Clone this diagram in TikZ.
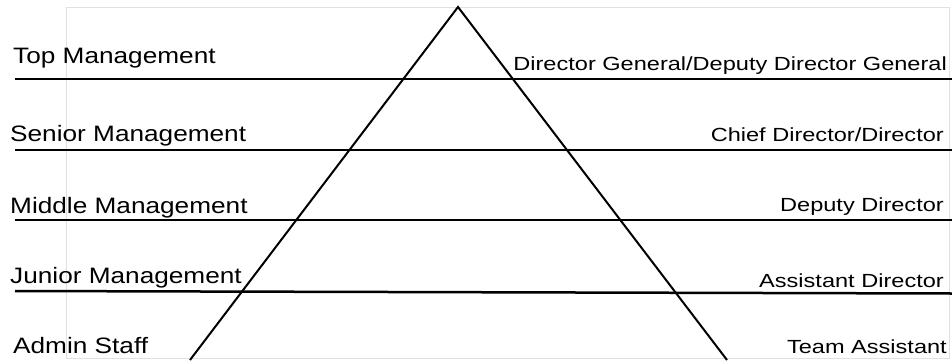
\documentclass[tikz,border=0pt]{standalone}
\usepackage{fontspec}
\setmainfont{Liberation Sans}
\begin{document}
\begin{tikzpicture}[x=1pt,y=1pt,
  lefttext/.style={anchor=base west,inner sep=0pt,font=\fontsize{22.3}{26}\selectfont},
  righttext/.style={anchor=base east,inner sep=0pt,font=\fontsize{19}{23}\selectfont},
  levelline/.style={line width=2.5pt,black},
  sideline/.style={line width=2pt,black},
  frameline/.style={line width=0.8pt,black!12}]
\useasboundingbox (0,0) rectangle (952,360);
\fill[white] (0,0) rectangle (952,360);
% faint frame
\draw[frameline] (66.5,1.5) rectangle (949.5,353);
% level lines
\coordinate (l1a) at (15,281); \coordinate (l1b) at (952,281);
\coordinate (l2a) at (15,210); \coordinate (l2b) at (952,210);
\coordinate (l3a) at (15,140); \coordinate (l3b) at (952,140);
\coordinate (l4a) at (15,69);  \coordinate (l4b) at (952,66.5);
\draw[levelline] (l1a) -- (l1b);
\draw[levelline] (l2a) -- (l2b);
\draw[levelline] (l3a) -- (l3b);
\draw[levelline] (l4a) -- (l4b);
% pyramid sides
\coordinate (apex) at (458,353);
\coordinate (bl) at (190,0);
\coordinate (br) at (727,0);
\draw[sideline,line join=miter] (bl) -- (apex) -- (br);
% left labels
\node[lefttext] (t1) at (13,297) {\scalebox{1.175}[1]{Top Management}};
\node[lefttext] (t2) at (10,219) {\scalebox{1.175}[1]{Senior Management}};
\node[lefttext] (t3) at (10,147) {\scalebox{1.175}[1]{Middle Management}};
\node[lefttext] (t4) at (10,77) {\scalebox{1.175}[1]{Junior Management}};
\node[lefttext] (t5) at (13,7) {\scalebox{1.175}[1]{Admin Staff}};
% right labels
\node[righttext] (r1) at (947,290) {\scalebox{1.24}[1]{Director General/Deputy Director General}};
\node[righttext] (r2) at (944,219) {\scalebox{1.24}[1]{Chief Director/Director}};
\node[righttext] (r3) at (944,149) {\scalebox{1.24}[1]{Deputy Director}};
\node[righttext] (r4) at (944,73) {\scalebox{1.24}[1]{Assistant Director}};
\node[righttext] (r5) at (947,7) {\scalebox{1.24}[1]{Team Assistant}};
\end{tikzpicture}
\end{document}
